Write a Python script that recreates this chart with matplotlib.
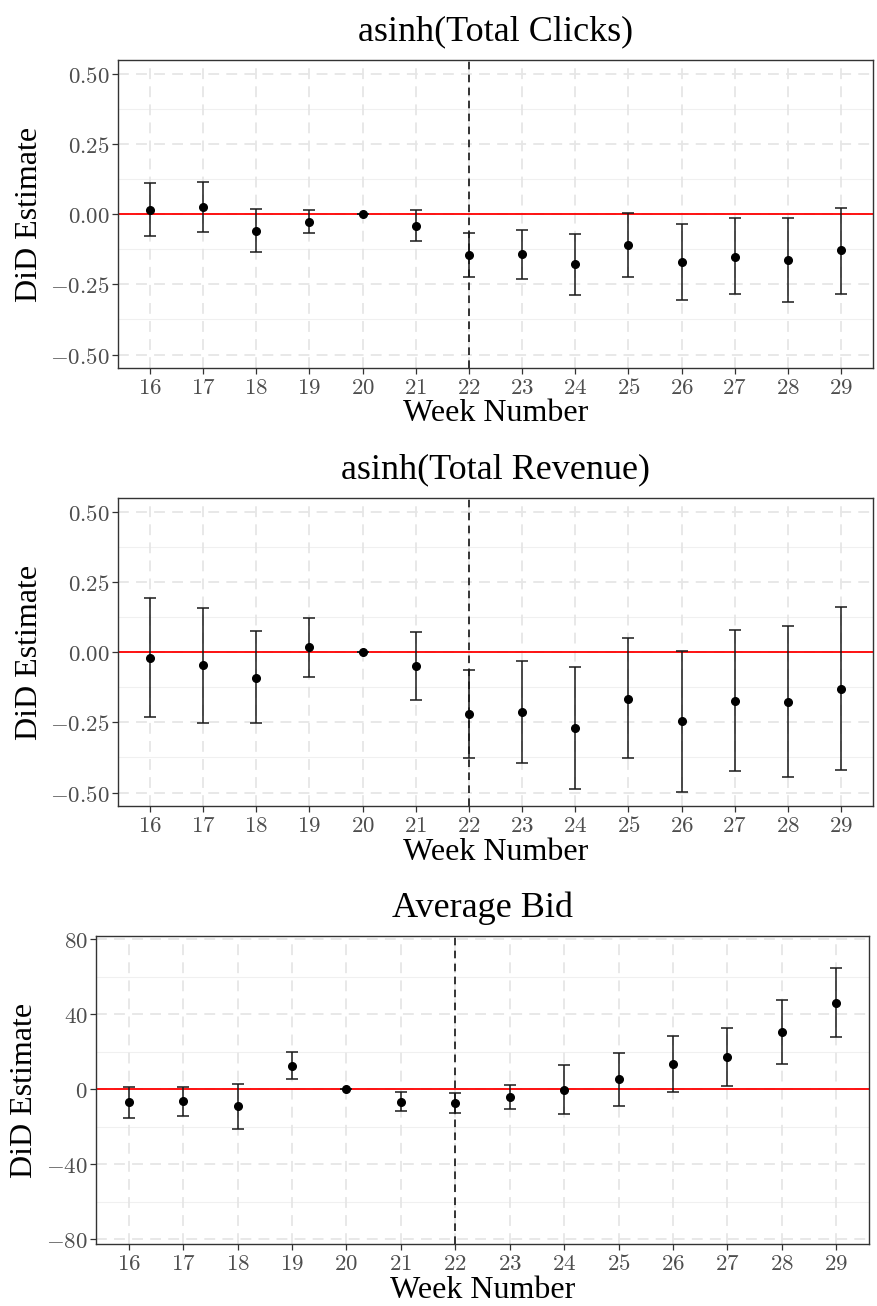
"""Event-study DiD estimates by week for clicks, revenue and average bid."""

import matplotlib

matplotlib.use("Agg")
import matplotlib.pyplot as plt

WEEKS = list(range(16, 30))
TREATMENT_WEEK = 22

clicks_est = [0.017, 0.026, -0.059, -0.027, 0.0, -0.043, -0.145, -0.142, -0.179, -0.109, -0.170, -0.151, -0.164, -0.129]
clicks_lo = [-0.079, -0.064, -0.136, -0.068, 0.0, -0.097, -0.225, -0.230, -0.288, -0.223, -0.306, -0.285, -0.313, -0.284]
clicks_hi = [0.113, 0.116, 0.020, 0.017, 0.0, 0.014, -0.065, -0.056, -0.070, 0.006, -0.035, -0.015, -0.015, 0.024]

revenue_est = [-0.019, -0.047, -0.090, 0.018, 0.0, -0.049, -0.219, -0.214, -0.269, -0.165, -0.246, -0.173, -0.177, -0.131]
revenue_lo = [-0.231, -0.253, -0.253, -0.089, 0.0, -0.171, -0.376, -0.395, -0.486, -0.378, -0.497, -0.424, -0.445, -0.420]
revenue_hi = [0.193, 0.158, 0.075, 0.123, 0.0, 0.071, -0.064, -0.031, -0.052, 0.050, 0.006, 0.078, 0.093, 0.161]

bid_est = [-7.1, -6.4, -9.2, 12.4, 0.0, -6.6, -7.3, -4.1, -0.4, 5.2, 13.3, 17.2, 30.5, 46.1]
bid_lo = [-15.5, -14.2, -21.3, 5.2, 0.0, -11.6, -12.6, -10.5, -13.3, -8.9, -1.6, 1.6, 13.5, 28.0]
bid_hi = [1.1, 1.1, 2.8, 19.9, 0.0, -1.4, -1.8, 2.3, 12.8, 19.2, 28.4, 32.6, 47.5, 64.5]

share_ticks = [-0.50, -0.25, 0.0, 0.25, 0.50]
share_labels = ["−0.50", "−0.25", "0.00", "0.25", "0.50"]
share_minor = [-0.375, -0.125, 0.125, 0.375]
bid_ticks = [-80, -40, 0, 40, 80]
bid_labels = ["−80", "−40", "0", "40", "80"]
bid_minor = [-60, -20, 20, 60]

W, H = 878, 1306
TEXT_FONT = ["Liberation Serif", "DejaVu Serif"]
TICK_COLOR = "#4d4d4d"

plt.rcParams["mathtext.fontset"] = "cm"


def math_label(text):
    return "$" + text.replace("−", "-") + "$"


def draw_panel(fig, box, ylabel_x, title, est, lo, hi, yticks, ylabels, yminor, ylim):
    """Draw one event-study panel; box is (left, top, right, bottom) in pixels."""
    left, top, right, bottom = box
    ax = fig.add_axes([left / W, 1 - bottom / H, (right - left) / W, (bottom - top) / H])

    for y in yminor:
        ax.axhline(y, color="#f0f0f0", lw=0.8, zorder=0)
    for y in yticks:
        ax.axhline(y, color="#e6e6e6", lw=1.3, ls=(0, (6, 4)), zorder=0.5)
    for x in WEEKS:
        ax.axvline(x, color="#e6e6e6", lw=1.3, ls=(0, (6, 4)), zorder=0.5)

    yerr = [[e - l for e, l in zip(est, lo)], [h - e for e, h in zip(est, hi)]]
    ax.errorbar(WEEKS, est, yerr=yerr, fmt="o", color="black", ms=5.5,
                ecolor="#1a1a1a", elinewidth=1.1, capsize=4.5, capthick=1.1, zorder=3)
    ax.axhline(0, color="red", lw=1.3, zorder=2)
    ax.axvline(TREATMENT_WEEK, color="black", lw=1.1, ls=(0, (5, 3.5)), zorder=2.5)

    ax.set_xlim(15.4, 29.6)
    ax.set_ylim(*ylim)
    ax.set_xticks(WEEKS, labels=[math_label(str(w)) for w in WEEKS])
    ax.set_yticks(yticks, labels=[math_label(s) for s in ylabels])
    ax.tick_params(axis="both", labelsize=16.5, labelcolor=TICK_COLOR, color="#333333",
                   length=4, width=0.9, pad=2)
    for spine in ax.spines.values():
        spine.set_color("#333333")
        spine.set_linewidth(1.0)

    cx = (left + right) / 2
    fig.text(cx / W, 1 - (top - 28) / H, title, ha="center", va="center",
             fontsize=26, family=TEXT_FONT)
    fig.text(cx / W, 1 - (bottom + 46) / H, "Week Number", ha="center", va="center",
             fontsize=23, family=TEXT_FONT)
    fig.text(ylabel_x / W, 1 - (top + bottom) / 2 / H, "DiD Estimate", ha="center",
             va="center", rotation=90, fontsize=23, family=TEXT_FONT)
    return ax


def main():
    fig = plt.figure(figsize=(W / 100, H / 100), dpi=100)
    draw_panel(fig, (118, 60, 873, 368), 30, "asinh(Total Clicks)", clicks_est, clicks_lo,
               clicks_hi, share_ticks, share_labels, share_minor, (-0.548, 0.55))
    draw_panel(fig, (118, 498, 873, 806), 30, "asinh(Total Revenue)", revenue_est, revenue_lo,
               revenue_hi, share_ticks, share_labels, share_minor, (-0.548, 0.55))
    draw_panel(fig, (96, 936, 869, 1244), 25, "Average Bid", bid_est, bid_lo, bid_hi,
               bid_ticks, bid_labels, bid_minor, (-82.5, 81.6))
    fig.savefig("out.png", dpi=100)
    plt.close(fig)


if __name__ == "__main__":
    main()
